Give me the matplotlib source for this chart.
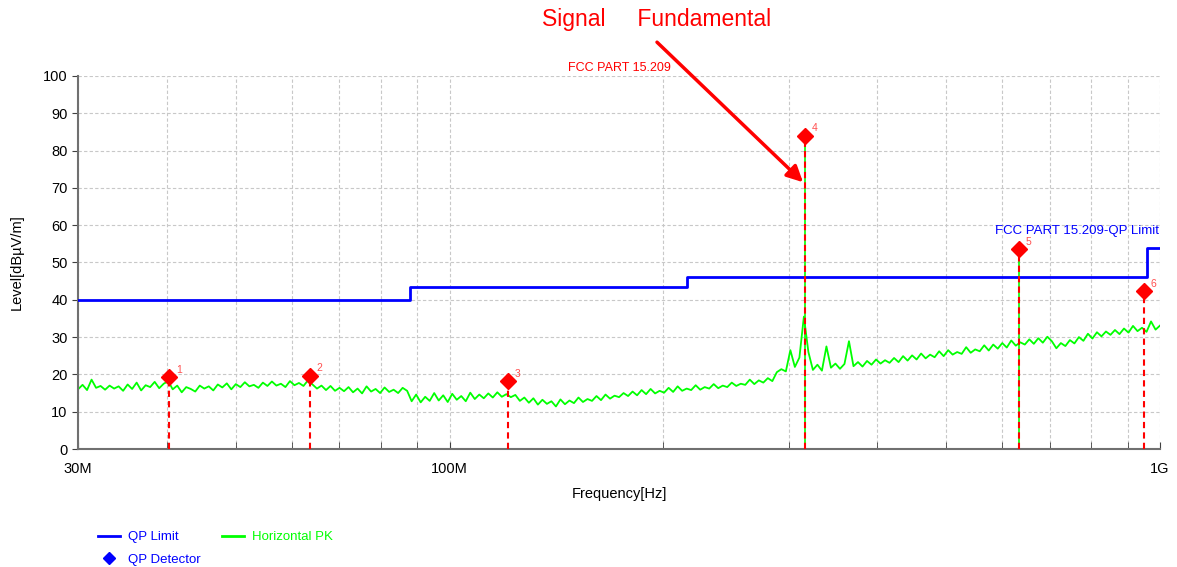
import numpy as np
import matplotlib
matplotlib.use('Agg')
import matplotlib.pyplot as plt
from matplotlib.lines import Line2D

plt.rcParams['font.family'] = ['Liberation Sans', 'DejaVu Sans']

# QP limit (FCC part 15.209), step edges in MHz
limit_freq = [30, 88, 88, 216, 216, 960, 960, 1000]
limit_level = [40, 40, 43.5, 43.5, 46, 46, 54, 54]

# QP detector markers
marker_id = ['1', '2', '3', '4', '5', '6']
marker_freq = [40.3, 63.6, 120.9, 316.5, 633.0, 949.0]
marker_level = [19.3, 19.7, 18.2, 84.0, 53.5, 42.3]
marker_pk = [False, False, False, True, True, False]

# Horizontal PK trace (30 MHz .. 1 GHz, log-spaced sweep points)
pk_level = [
    16.0, 17.2, 15.8, 18.6, 16.4, 16.9, 15.9, 17.0, 16.2, 16.8,
    15.6, 17.3, 16.1, 17.8, 15.7, 17.1, 16.6, 18.0, 16.3, 17.5,
    18.2, 16.0, 17.0, 15.2, 16.6, 16.1, 15.4, 17.0, 16.2, 16.8,
    15.7, 17.3, 16.5, 17.6, 16.0, 17.4, 16.6, 17.9, 16.8, 17.2,
    16.4, 17.8, 16.9, 18.1, 17.0, 17.5, 16.6, 18.2, 17.1, 17.7,
    16.9, 18.4, 17.3, 16.2, 17.0, 15.8, 16.9, 15.6, 16.4, 15.5,
    16.6, 15.2, 16.2, 14.9, 16.8, 15.4, 16.1, 15.0, 16.5, 15.3,
    15.9, 15.0, 16.4, 15.6, 12.8, 14.6, 12.5, 14.0, 12.9, 15.0,
    13.0, 14.4, 12.6, 14.8, 13.2, 14.2, 12.8, 15.1, 13.4, 14.6,
    13.6, 14.9, 13.8, 15.2, 14.0, 14.7, 13.9, 14.5, 12.9, 13.8,
    12.4, 13.6, 11.9, 13.2, 12.1, 12.8, 11.4, 13.3, 12.0, 13.0,
    12.3, 13.8, 12.6, 13.4, 12.9, 14.2, 13.1, 14.6, 13.5, 14.3,
    13.9, 15.0, 14.2, 15.4, 14.4, 15.8, 14.7, 16.1, 14.9, 15.6,
    15.1, 16.4, 15.3, 16.8, 15.6, 16.2, 15.8, 17.1, 15.9, 16.6,
    16.2, 17.4, 16.3, 17.0, 16.6, 17.8, 16.9, 17.5, 17.2, 18.6,
    17.4, 18.4, 17.8, 19.0, 18.2, 20.6, 21.4, 20.8, 26.5, 22.0,
    24.5, 35.5, 26.0, 21.2, 22.6, 21.0, 27.5, 21.8, 22.9, 21.5,
    22.8, 28.9, 22.2, 23.3, 22.1, 23.6, 22.6, 24.0, 22.9, 23.8,
    23.1, 24.4, 23.3, 24.9, 23.7, 25.1, 24.0, 25.6, 24.3, 25.3,
    24.6, 26.2, 24.9, 26.5, 25.3, 26.0, 25.5, 27.3, 25.8, 26.7,
    26.2, 27.8, 26.4, 28.0, 26.9, 28.4, 27.2, 29.1, 27.7, 28.6,
    28.0, 29.4, 28.2, 29.7, 28.5, 30.1, 28.9, 27.0, 28.4, 27.6,
    29.2, 28.3, 30.0, 29.0, 30.9, 29.6, 31.3, 30.2, 31.5, 30.6,
    31.9, 30.8, 32.3, 31.2, 33.0, 31.6, 32.5, 31.4, 34.2, 32.0, 33.1,
]
pk_freq = np.geomspace(30e6, 1e9, len(pk_level))

blue = '#0000ff'
green = '#00ff00'
red = '#ff0000'

fig = plt.figure(figsize=(11.77, 5.67), dpi=100)
ax = fig.add_axes([0.0663, 0.2081, 0.9193, 0.6579])

ax.plot(pk_freq, pk_level, color=green, lw=1.3, zorder=2)
ax.plot(np.array(limit_freq) * 1e6, limit_level, color=blue, lw=2, zorder=3)

for mid, f, lv, pk in zip(marker_id, marker_freq, marker_level, marker_pk):
    f = f * 1e6
    if pk:
        ax.plot([f, f], [0, lv], color=green, lw=1.2, zorder=3)
    ax.plot([f, f], [0, lv], color=red, lw=1.5, ls=(0, (3, 2)), zorder=4)
    ax.plot(f, lv, marker='D', color=red, ms=8, zorder=5, clip_on=False)
    ax.annotate(mid, (f, lv), xytext=(5, 3), textcoords='offset points',
                color='#ff5050', fontsize=7.5, zorder=6)

ax.set_xscale('log')
ax.set_xlim(30e6, 1e9)
ax.set_ylim(0, 100)
ax.set_xticks([30e6, 100e6, 1e9])
ax.set_xticklabels(['30M', '100M', '1G'])
ax.set_xticks([f * 1e6 for f in (40, 50, 60, 70, 80, 90, 200, 300, 400, 500, 600, 700, 800, 900)], minor=True)
ax.xaxis.set_minor_formatter(plt.NullFormatter())
ax.set_yticks(range(0, 101, 10))

ax.grid(True, which='both', color='#c8c8c8', ls=(0, (3, 2)), lw=0.8)
ax.tick_params(axis='x', which='both', direction='in', length=5, color='#404040', pad=9, labelsize=10.5)
ax.tick_params(axis='y', direction='out', length=4, color='#404040', labelsize=10.5)
for s in ('top', 'right'):
    ax.spines[s].set_visible(False)
for s in ('left', 'bottom'):
    ax.spines[s].set_color('#707070')
    ax.spines[s].set_linewidth(1.5)

ax.set_xlabel('Frequency[Hz]', fontsize=10.5, labelpad=8)
ax.set_ylabel('Level[dB\u00b5V/m]', fontsize=10.5, labelpad=14)

ax.text(0.999, 0.585, 'FCC PART 15.209-QP Limit', transform=ax.transAxes,
        ha='right', va='center', color=blue, fontsize=9.5)
fig.text(0.5265, 0.88, 'FCC PART 15.209', color=red, fontsize=9, ha='center', va='center')
fig.text(0.558, 0.966, 'Signal     Fundamental', color=red, fontsize=16.5,
         ha='center', va='center')
ax.annotate('', xy=(316.5e6, 71), xytext=(0.5565, 0.929), textcoords='figure fraction',
            arrowprops=dict(arrowstyle='-|>', color=red, lw=2.5, mutation_scale=24))

handles = [Line2D([], [], color=blue, lw=2),
           Line2D([], [], color=blue, marker='D', ls='none', ms=6),
           Line2D([], [], color=green, lw=2)]
leg = fig.legend(handles, ['QP Limit', 'QP Detector', 'Horizontal PK'], ncol=2,
                 loc='upper left', bbox_to_anchor=(0.073, 0.084), frameon=False,
                 fontsize=9.5, handlelength=1.7, handletextpad=0.6,
                 columnspacing=1.6, labelspacing=0.75)
for t, c in zip(leg.get_texts(), [blue, blue, green]):
    t.set_color(c)

fig.savefig('out.png', dpi=100)
